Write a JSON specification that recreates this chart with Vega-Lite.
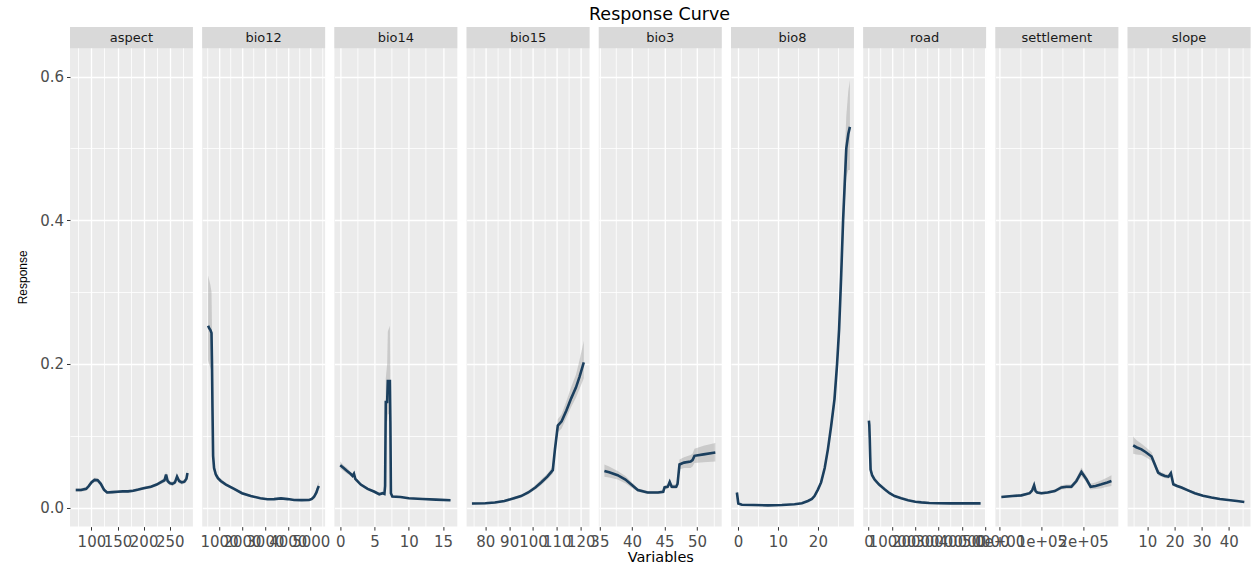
{
"$schema": "https://vega.github.io/schema/vega-lite/v6.json",
"padding": {"left": 16, "top": 6, "right": 5, "bottom": 5},
"background": "#FFFFFF",
"title": {"text": "Response Curve", "font": "DejaVu Sans", "fontSize": 17.5, "fontWeight": "normal", "color": "#000000", "anchor": "middle", "offset": 3, "dx": 26},
"spacing": 9.2,
"bounds": "flush",
"resolve": {"scale": {"x": "independent", "y": "independent"}},
"config": {
  "view": {"fill": "#EBEBEB", "stroke": null},
  "axis": {"domain": false, "gridColor": "#FFFFFF", "tickColor": "#333333", "tickSize": 3.5, "labelColor": "#4D4D4D", "labelFont": "DejaVu Sans", "labelFontSize": 15, "labelOverlap": false, "labelSeparation": -500, "labelFlush": false, "labelBound": false, "titleFont": "DejaVu Sans", "titleFontWeight": "normal", "titleColor": "#000000", "labelPadding": 3},
  "axisY": {"titlePadding": 10, "titleFont": "Liberation Sans", "titleFontSize": 12},
  "axisX": {"titleFontSize": 14.5, "titlePadding": 1, "labelPadding": 4}
},
"datasets": {
  "aspect": [
    {"x":70,"y":0.0245,"lo":0.022,"hi":0.027},{"x":80,"y":0.0245,"lo":0.022,"hi":0.027},{"x":90,"y":0.026,"lo":0.0235,"hi":0.0285},{"x":95,"y":0.03,"lo":0.027,"hi":0.033},{"x":100,"y":0.035,"lo":0.032,"hi":0.038},{"x":106,"y":0.0385,"lo":0.0355,"hi":0.0415},{"x":112,"y":0.038,"lo":0.035,"hi":0.041},{"x":118,"y":0.033,"lo":0.03,"hi":0.036},{"x":124,"y":0.025,"lo":0.022,"hi":0.028},{"x":130,"y":0.021,"lo":0.019,"hi":0.023},{"x":140,"y":0.0215,"lo":0.0195,"hi":0.0235},{"x":150,"y":0.022,"lo":0.02,"hi":0.024},{"x":160,"y":0.0225,"lo":0.0205,"hi":0.0245},{"x":170,"y":0.0225,"lo":0.0205,"hi":0.0245},{"x":180,"y":0.0235,"lo":0.0215,"hi":0.0255},{"x":190,"y":0.025,"lo":0.023,"hi":0.027},{"x":200,"y":0.027,"lo":0.025,"hi":0.029},{"x":214,"y":0.029,"lo":0.027,"hi":0.031},{"x":225,"y":0.032,"lo":0.03,"hi":0.034},{"x":235,"y":0.036,"lo":0.033,"hi":0.039},{"x":240,"y":0.038,"lo":0.035,"hi":0.041},{"x":243,"y":0.046,"lo":0.041,"hi":0.05},{"x":246,"y":0.037,"lo":0.034,"hi":0.04},{"x":250,"y":0.034,"lo":0.031,"hi":0.037},{"x":255,"y":0.033,"lo":0.03,"hi":0.036},{"x":260,"y":0.035,"lo":0.032,"hi":0.038},{"x":264,"y":0.043,"lo":0.039,"hi":0.047},{"x":268,"y":0.037,"lo":0.034,"hi":0.04},{"x":273,"y":0.035,"lo":0.032,"hi":0.038},{"x":278,"y":0.036,"lo":0.033,"hi":0.039},{"x":282,"y":0.04,"lo":0.036,"hi":0.044},{"x":284,"y":0.048,"lo":0.043,"hi":0.053}
  ],
  "bio12": [
    {"x":520,"y":0.253,"lo":0.205,"hi":0.323},{"x":560,"y":0.25,"lo":0.2,"hi":0.318},{"x":620,"y":0.247,"lo":0.195,"hi":0.31},{"x":668,"y":0.243,"lo":0.19,"hi":0.3},{"x":690,"y":0.2,"lo":0.16,"hi":0.25},{"x":710,"y":0.14,"lo":0.11,"hi":0.17},{"x":738,"y":0.072,"lo":0.06,"hi":0.085},{"x":780,"y":0.055,"lo":0.049,"hi":0.062},{"x":856,"y":0.046,"lo":0.042,"hi":0.05},{"x":950,"y":0.041,"lo":0.038,"hi":0.044},{"x":1074,"y":0.037,"lo":0.034,"hi":0.04},{"x":1300,"y":0.032,"lo":0.03,"hi":0.034},{"x":1655,"y":0.026,"lo":0.024,"hi":0.028},{"x":2000,"y":0.02,"lo":0.018,"hi":0.022},{"x":2384,"y":0.016,"lo":0.0145,"hi":0.0175},{"x":2800,"y":0.013,"lo":0.0118,"hi":0.0142},{"x":3114,"y":0.0116,"lo":0.0105,"hi":0.0127},{"x":3400,"y":0.0118,"lo":0.0107,"hi":0.0129},{"x":3700,"y":0.0128,"lo":0.0117,"hi":0.0139},{"x":4000,"y":0.0118,"lo":0.0107,"hi":0.0129},{"x":4275,"y":0.0106,"lo":0.0095,"hi":0.0117},{"x":4600,"y":0.0104,"lo":0.0093,"hi":0.0115},{"x":4930,"y":0.0106,"lo":0.0095,"hi":0.0117},{"x":5050,"y":0.012,"lo":0.01,"hi":0.014},{"x":5148,"y":0.015,"lo":0.012,"hi":0.018},{"x":5250,"y":0.021,"lo":0.017,"hi":0.025},{"x":5300,"y":0.026,"lo":0.021,"hi":0.031},{"x":5354,"y":0.03,"lo":0.024,"hi":0.036}
  ],
  "bio14": [
    {"x":0,"y":0.059,"lo":0.054,"hi":0.064},{"x":0.5,"y":0.055,"lo":0.051,"hi":0.059},{"x":1,"y":0.051,"lo":0.047,"hi":0.055},{"x":1.5,"y":0.047,"lo":0.044,"hi":0.05},{"x":1.8,"y":0.044,"lo":0.041,"hi":0.047},{"x":2,"y":0.047,"lo":0.043,"hi":0.051},{"x":2.2,"y":0.04,"lo":0.037,"hi":0.043},{"x":3,"y":0.032,"lo":0.03,"hi":0.034},{"x":4,"y":0.026,"lo":0.024,"hi":0.028},{"x":5,"y":0.022,"lo":0.02,"hi":0.024},{"x":5.7,"y":0.0185,"lo":0.017,"hi":0.02},{"x":6.2,"y":0.02,"lo":0.018,"hi":0.022},{"x":6.45,"y":0.019,"lo":0.017,"hi":0.021},{"x":6.55,"y":0.03,"lo":0.026,"hi":0.034},{"x":6.65,"y":0.147,"lo":0.12,"hi":0.18},{"x":6.85,"y":0.147,"lo":0.12,"hi":0.2},{"x":6.95,"y":0.176,"lo":0.13,"hi":0.245},{"x":7.25,"y":0.176,"lo":0.13,"hi":0.253},{"x":7.32,"y":0.12,"lo":0.09,"hi":0.16},{"x":7.4,"y":0.02,"lo":0.017,"hi":0.023},{"x":7.6,"y":0.0155,"lo":0.014,"hi":0.017},{"x":8.8,"y":0.0148,"lo":0.0138,"hi":0.0158},{"x":10,"y":0.013,"lo":0.012,"hi":0.014},{"x":12,"y":0.012,"lo":0.011,"hi":0.013},{"x":14,"y":0.011,"lo":0.01,"hi":0.012},{"x":16.1,"y":0.0102,"lo":0.0095,"hi":0.011}
  ],
  "bio15": [
    {"x":74.4,"y":0.0056,"lo":0.004,"hi":0.007},{"x":80,"y":0.006,"lo":0.0045,"hi":0.0075},{"x":84,"y":0.007,"lo":0.0055,"hi":0.0085},{"x":88,"y":0.009,"lo":0.0075,"hi":0.0105},{"x":92,"y":0.013,"lo":0.011,"hi":0.015},{"x":95,"y":0.016,"lo":0.014,"hi":0.018},{"x":98,"y":0.021,"lo":0.0185,"hi":0.0235},{"x":101,"y":0.028,"lo":0.025,"hi":0.031},{"x":103.4,"y":0.035,"lo":0.031,"hi":0.039},{"x":106,"y":0.043,"lo":0.039,"hi":0.047},{"x":108.3,"y":0.052,"lo":0.047,"hi":0.057},{"x":109.2,"y":0.081,"lo":0.074,"hi":0.088},{"x":110.4,"y":0.114,"lo":0.105,"hi":0.123},{"x":112,"y":0.12,"lo":0.11,"hi":0.13},{"x":114,"y":0.135,"lo":0.125,"hi":0.148},{"x":116,"y":0.152,"lo":0.14,"hi":0.168},{"x":118,"y":0.167,"lo":0.153,"hi":0.185},{"x":119.5,"y":0.182,"lo":0.165,"hi":0.205},{"x":121.3,"y":0.202,"lo":0.18,"hi":0.232}
  ],
  "bio3": [
    {"x":35.77,"y":0.051,"lo":0.043,"hi":0.06},{"x":36.5,"y":0.049,"lo":0.042,"hi":0.057},{"x":37.8,"y":0.045,"lo":0.039,"hi":0.051},{"x":39,"y":0.039,"lo":0.034,"hi":0.044},{"x":39.9,"y":0.032,"lo":0.028,"hi":0.036},{"x":40.9,"y":0.0245,"lo":0.022,"hi":0.027},{"x":42.4,"y":0.021,"lo":0.019,"hi":0.023},{"x":44,"y":0.021,"lo":0.019,"hi":0.023},{"x":44.8,"y":0.022,"lo":0.02,"hi":0.024},{"x":45,"y":0.028,"lo":0.025,"hi":0.031},{"x":45.5,"y":0.029,"lo":0.026,"hi":0.032},{"x":45.8,"y":0.0357,"lo":0.032,"hi":0.039},{"x":46.1,"y":0.029,"lo":0.026,"hi":0.032},{"x":46.8,"y":0.029,"lo":0.026,"hi":0.032},{"x":47,"y":0.033,"lo":0.029,"hi":0.037},{"x":47.3,"y":0.06,"lo":0.053,"hi":0.067},{"x":48,"y":0.0626,"lo":0.055,"hi":0.07},{"x":49,"y":0.064,"lo":0.055,"hi":0.073},{"x":49.3,"y":0.066,"lo":0.057,"hi":0.075},{"x":49.6,"y":0.072,"lo":0.062,"hi":0.082},{"x":51,"y":0.074,"lo":0.063,"hi":0.086},{"x":52.8,"y":0.0766,"lo":0.064,"hi":0.09}
  ],
  "bio8": [
    {"x":-0.25,"y":0.021,"lo":0.018,"hi":0.024},{"x":0.1,"y":0.0056,"lo":0.004,"hi":0.007},{"x":1,"y":0.004,"lo":0.003,"hi":0.005},{"x":4,"y":0.0035,"lo":0.003,"hi":0.004},{"x":7.5,"y":0.003,"lo":0.0025,"hi":0.0035},{"x":11,"y":0.0035,"lo":0.003,"hi":0.004},{"x":14.15,"y":0.0046,"lo":0.004,"hi":0.0052},{"x":16,"y":0.006,"lo":0.0053,"hi":0.0067},{"x":17.5,"y":0.0092,"lo":0.0083,"hi":0.01},{"x":18.5,"y":0.012,"lo":0.011,"hi":0.013},{"x":19.15,"y":0.016,"lo":0.0145,"hi":0.0175},{"x":20,"y":0.025,"lo":0.023,"hi":0.027},{"x":20.8,"y":0.035,"lo":0.032,"hi":0.038},{"x":21.7,"y":0.055,"lo":0.051,"hi":0.059},{"x":22.5,"y":0.081,"lo":0.075,"hi":0.087},{"x":23.3,"y":0.113,"lo":0.105,"hi":0.121},{"x":24.15,"y":0.151,"lo":0.14,"hi":0.162},{"x":24.8,"y":0.2,"lo":0.185,"hi":0.215},{"x":25.3,"y":0.248,"lo":0.23,"hi":0.266},{"x":25.8,"y":0.32,"lo":0.3,"hi":0.34},{"x":26.3,"y":0.4,"lo":0.37,"hi":0.43},{"x":26.7,"y":0.45,"lo":0.42,"hi":0.49},{"x":27.1,"y":0.5,"lo":0.46,"hi":0.545},{"x":27.6,"y":0.52,"lo":0.47,"hi":0.58},{"x":28,"y":0.53,"lo":0.47,"hi":0.595}
  ],
  "road": [
    {"x":123,"y":0.121,"lo":0.106,"hi":0.137},{"x":300,"y":0.115,"lo":0.1,"hi":0.13},{"x":500,"y":0.095,"lo":0.085,"hi":0.105},{"x":700,"y":0.07,"lo":0.063,"hi":0.077},{"x":857,"y":0.053,"lo":0.048,"hi":0.058},{"x":1500,"y":0.045,"lo":0.041,"hi":0.049},{"x":2570,"y":0.039,"lo":0.036,"hi":0.042},{"x":4500,"y":0.032,"lo":0.03,"hi":0.034},{"x":6860,"y":0.0255,"lo":0.024,"hi":0.027},{"x":9000,"y":0.02,"lo":0.019,"hi":0.021},{"x":11140,"y":0.016,"lo":0.015,"hi":0.017},{"x":14000,"y":0.013,"lo":0.012,"hi":0.014},{"x":16900,"y":0.0102,"lo":0.0095,"hi":0.011},{"x":20000,"y":0.0082,"lo":0.0076,"hi":0.0088},{"x":22600,"y":0.0072,"lo":0.0066,"hi":0.0078},{"x":26000,"y":0.0064,"lo":0.0058,"hi":0.007},{"x":29700,"y":0.006,"lo":0.0055,"hi":0.0065},{"x":35000,"y":0.0058,"lo":0.0053,"hi":0.0063},{"x":42000,"y":0.0058,"lo":0.0053,"hi":0.0063},{"x":48000,"y":0.0058,"lo":0.0053,"hi":0.0063}
  ],
  "settlement": [
    {"x":4000,"y":0.0148,"lo":0.013,"hi":0.0166},{"x":30000,"y":0.016,"lo":0.0145,"hi":0.0175},{"x":52000,"y":0.017,"lo":0.0155,"hi":0.0185},{"x":72000,"y":0.02,"lo":0.018,"hi":0.022},{"x":78000,"y":0.024,"lo":0.021,"hi":0.027},{"x":82500,"y":0.031,"lo":0.027,"hi":0.035},{"x":86000,"y":0.023,"lo":0.02,"hi":0.026},{"x":90000,"y":0.021,"lo":0.019,"hi":0.023},{"x":100000,"y":0.02,"lo":0.018,"hi":0.022},{"x":115000,"y":0.021,"lo":0.019,"hi":0.023},{"x":132000,"y":0.023,"lo":0.021,"hi":0.025},{"x":148000,"y":0.028,"lo":0.025,"hi":0.031},{"x":160000,"y":0.029,"lo":0.026,"hi":0.032},{"x":172000,"y":0.029,"lo":0.026,"hi":0.032},{"x":184000,"y":0.037,"lo":0.033,"hi":0.041},{"x":196000,"y":0.0496,"lo":0.044,"hi":0.0557},{"x":208000,"y":0.0394,"lo":0.035,"hi":0.044},{"x":218000,"y":0.029,"lo":0.025,"hi":0.033},{"x":230000,"y":0.03,"lo":0.026,"hi":0.035},{"x":244000,"y":0.0324,"lo":0.027,"hi":0.038},{"x":258000,"y":0.035,"lo":0.029,"hi":0.042},{"x":268000,"y":0.037,"lo":0.03,"hi":0.045}
  ],
  "slope": [
    {"x":4.85,"y":0.0867,"lo":0.075,"hi":0.099},{"x":6,"y":0.084,"lo":0.074,"hi":0.094},{"x":7.9,"y":0.081,"lo":0.073,"hi":0.089},{"x":9.5,"y":0.077,"lo":0.07,"hi":0.084},{"x":11.6,"y":0.071,"lo":0.065,"hi":0.077},{"x":12.8,"y":0.06,"lo":0.055,"hi":0.065},{"x":14,"y":0.0487,"lo":0.045,"hi":0.053},{"x":15.2,"y":0.046,"lo":0.043,"hi":0.049},{"x":16.5,"y":0.044,"lo":0.041,"hi":0.047},{"x":17.8,"y":0.043,"lo":0.04,"hi":0.046},{"x":18.7,"y":0.0478,"lo":0.043,"hi":0.052},{"x":19.6,"y":0.0324,"lo":0.03,"hi":0.035},{"x":21,"y":0.03,"lo":0.028,"hi":0.032},{"x":22.6,"y":0.028,"lo":0.026,"hi":0.03},{"x":25,"y":0.024,"lo":0.022,"hi":0.026},{"x":27.5,"y":0.02,"lo":0.0185,"hi":0.0215},{"x":30.5,"y":0.0165,"lo":0.0153,"hi":0.0177},{"x":33.6,"y":0.014,"lo":0.013,"hi":0.015},{"x":36.7,"y":0.012,"lo":0.011,"hi":0.013},{"x":39.8,"y":0.0106,"lo":0.0098,"hi":0.0114},{"x":43,"y":0.0092,"lo":0.0085,"hi":0.0099},{"x":45.7,"y":0.0078,"lo":0.0071,"hi":0.0085}
  ]
},
"hconcat": [
  {"width": 122.9, "height": 499.6, "layer": [
    {"data": {"name": "aspect"}, "mark": {"type": "area", "color": "#999999", "opacity": 0.4},
     "encoding": {
      "x": {"field": "x", "type": "quantitative", "scale": {"domain": [59.0, 294.4], "nice": false, "zero": false},
            "axis": {"title": null, "labelOverlap": false, "labelSeparation": -500, "values": [75,100,125,150,175,200,225,250,275], "labelExpr": "datum.value % 50 == 0 ? format(datum.value, 'd') : ''", "gridWidth": {"condition": {"test": "datum.value % 50 != 0", "value": 0.8}, "value": 1.3}, "tickOpacity": {"condition": {"test": "datum.value % 50 != 0", "value": 0}, "value": 1}}},
      "y": {"field": "lo", "type": "quantitative", "scale": {"domain": [-0.0265, 0.669], "nice": false, "zero": false},
            "axis": {"title": "Response", "labelOverlap": false, "values": [0,0.1,0.2,0.3,0.4,0.5,0.6], "labelExpr": "round(datum.value*10) % 2 == 0 ? format(datum.value, '.1f') : ''", "gridWidth": {"condition": {"test": "round(datum.value*10) % 2 == 1", "value": 0.8}, "value": 1.3}, "tickOpacity": {"condition": {"test": "round(datum.value*10) % 2 == 1", "value": 0}, "value": 1}}},
      "y2": {"field": "hi"}}},
    {"data": {"name": "aspect"}, "mark": {"type": "line", "color": "#1B3F5E", "strokeWidth": 2.6},
     "encoding": {
      "x": {"field": "x", "type": "quantitative",
            "axis": {"title": null, "labelOverlap": false, "labelSeparation": -500, "values": [75,100,125,150,175,200,225,250,275], "labelExpr": "datum.value % 50 == 0 ? format(datum.value, 'd') : ''", "gridWidth": {"condition": {"test": "datum.value % 50 != 0", "value": 0.8}, "value": 1.3}, "tickOpacity": {"condition": {"test": "datum.value % 50 != 0", "value": 0}, "value": 1}}},
      "y": {"field": "y", "type": "quantitative",
            "axis": {"title": "Response", "labelOverlap": false, "values": [0,0.1,0.2,0.3,0.4,0.5,0.6], "labelExpr": "round(datum.value*10) % 2 == 0 ? format(datum.value, '.1f') : ''", "gridWidth": {"condition": {"test": "round(datum.value*10) % 2 == 1", "value": 0.8}, "value": 1.3}, "tickOpacity": {"condition": {"test": "round(datum.value*10) % 2 == 1", "value": 0}, "value": 1}}}}},
    {"data": {"values": [{"label": "aspect"}]}, "mark": {"type": "rect", "color": "#D9D9D9"},
     "encoding": {"y": {"datum": 0.6395}, "y2": {"datum": 0.669}}},
    {"data": {"values": [{"label": "aspect"}]}, "mark": {"type": "text", "font": "DejaVu Sans", "fontSize": 13, "color": "#1A1A1A", "baseline": "middle", "align": "center"},
     "encoding": {"y": {"datum": 0.6543}, "text": {"field": "label"}}}
  ]},
  {"width": 122.9, "height": 499.6, "layer": [
    {"data": {"name": "bio12"}, "mark": {"type": "area", "color": "#999999", "opacity": 0.4},
     "encoding": {
      "x": {"field": "x", "type": "quantitative", "scale": {"domain": [262, 5629], "nice": false, "zero": false},
            "axis": {"title": null, "labelOverlap": false, "labelSeparation": -500, "values": [500,1000,1500,2000,2500,3000,3500,4000,4500,5000,5500], "labelExpr": "datum.value % 1000 == 0 ? format(datum.value, 'd') : ''", "gridWidth": {"condition": {"test": "datum.value % 1000 != 0", "value": 0.8}, "value": 1.3}, "tickOpacity": {"condition": {"test": "datum.value % 1000 != 0", "value": 0}, "value": 1}}},
      "y": {"field": "lo", "type": "quantitative", "scale": {"domain": [-0.0265, 0.669], "nice": false, "zero": false},
            "axis": {"title": null, "labels": false, "ticks": false, "values": [0,0.1,0.2,0.3,0.4,0.5,0.6], "gridWidth": {"condition": {"test": "round(datum.value*10) % 2 == 1", "value": 0.8}, "value": 1.3}}},
      "y2": {"field": "hi"}}},
    {"data": {"name": "bio12"}, "mark": {"type": "line", "color": "#1B3F5E", "strokeWidth": 2.6},
     "encoding": {
      "x": {"field": "x", "type": "quantitative",
            "axis": {"title": null, "labelOverlap": false, "labelSeparation": -500, "values": [500,1000,1500,2000,2500,3000,3500,4000,4500,5000,5500], "labelExpr": "datum.value % 1000 == 0 ? format(datum.value, 'd') : ''", "gridWidth": {"condition": {"test": "datum.value % 1000 != 0", "value": 0.8}, "value": 1.3}, "tickOpacity": {"condition": {"test": "datum.value % 1000 != 0", "value": 0}, "value": 1}}},
      "y": {"field": "y", "type": "quantitative",
            "axis": {"title": null, "labels": false, "ticks": false, "values": [0,0.1,0.2,0.3,0.4,0.5,0.6], "gridWidth": {"condition": {"test": "round(datum.value*10) % 2 == 1", "value": 0.8}, "value": 1.3}}}}},
    {"data": {"values": [{"label": "bio12"}]}, "mark": {"type": "rect", "color": "#D9D9D9"},
     "encoding": {"y": {"datum": 0.6395}, "y2": {"datum": 0.669}}},
    {"data": {"values": [{"label": "bio12"}]}, "mark": {"type": "text", "font": "DejaVu Sans", "fontSize": 13, "color": "#1A1A1A", "baseline": "middle", "align": "center"},
     "encoding": {"y": {"datum": 0.6543}, "text": {"field": "label"}}}
  ]},
  {"width": 122.9, "height": 499.6, "layer": [
    {"data": {"name": "bio14"}, "mark": {"type": "area", "color": "#999999", "opacity": 0.4},
     "encoding": {
      "x": {"field": "x", "type": "quantitative", "scale": {"domain": [-0.85, 17.09], "nice": false, "zero": false},
            "axis": {"title": null, "labelOverlap": false, "labelSeparation": -500, "values": [0,2.5,5,7.5,10,12.5,15], "labelExpr": "datum.value % 5 == 0 ? format(datum.value, 'd') : ''", "gridWidth": {"condition": {"test": "datum.value % 5 != 0", "value": 0.8}, "value": 1.3}, "tickOpacity": {"condition": {"test": "datum.value % 5 != 0", "value": 0}, "value": 1}}},
      "y": {"field": "lo", "type": "quantitative", "scale": {"domain": [-0.0265, 0.669], "nice": false, "zero": false},
            "axis": {"title": null, "labels": false, "ticks": false, "values": [0,0.1,0.2,0.3,0.4,0.5,0.6], "gridWidth": {"condition": {"test": "round(datum.value*10) % 2 == 1", "value": 0.8}, "value": 1.3}}},
      "y2": {"field": "hi"}}},
    {"data": {"name": "bio14"}, "mark": {"type": "line", "color": "#1B3F5E", "strokeWidth": 2.6},
     "encoding": {
      "x": {"field": "x", "type": "quantitative",
            "axis": {"title": null, "labelOverlap": false, "labelSeparation": -500, "values": [0,2.5,5,7.5,10,12.5,15], "labelExpr": "datum.value % 5 == 0 ? format(datum.value, 'd') : ''", "gridWidth": {"condition": {"test": "datum.value % 5 != 0", "value": 0.8}, "value": 1.3}, "tickOpacity": {"condition": {"test": "datum.value % 5 != 0", "value": 0}, "value": 1}}},
      "y": {"field": "y", "type": "quantitative",
            "axis": {"title": null, "labels": false, "ticks": false, "values": [0,0.1,0.2,0.3,0.4,0.5,0.6], "gridWidth": {"condition": {"test": "round(datum.value*10) % 2 == 1", "value": 0.8}, "value": 1.3}}}}},
    {"data": {"values": [{"label": "bio14"}]}, "mark": {"type": "rect", "color": "#D9D9D9"},
     "encoding": {"y": {"datum": 0.6395}, "y2": {"datum": 0.669}}},
    {"data": {"values": [{"label": "bio14"}]}, "mark": {"type": "text", "font": "DejaVu Sans", "fontSize": 13, "color": "#1A1A1A", "baseline": "middle", "align": "center"},
     "encoding": {"y": {"datum": 0.6543}, "text": {"field": "label"}}}
  ]},
  {"width": 122.9, "height": 499.6, "layer": [
    {"data": {"name": "bio15"}, "mark": {"type": "area", "color": "#999999", "opacity": 0.4},
     "encoding": {
      "x": {"field": "x", "type": "quantitative", "scale": {"domain": [72.16, 123.69], "nice": false, "zero": false},
            "axis": {"title": null, "labelOverlap": false, "labelSeparation": -500, "values": [75,80,85,90,95,100,105,110,115,120], "labelExpr": "datum.value % 10 == 0 ? format(datum.value, 'd') : ''", "gridWidth": {"condition": {"test": "datum.value % 10 != 0", "value": 0.8}, "value": 1.3}, "tickOpacity": {"condition": {"test": "datum.value % 10 != 0", "value": 0}, "value": 1}}},
      "y": {"field": "lo", "type": "quantitative", "scale": {"domain": [-0.0265, 0.669], "nice": false, "zero": false},
            "axis": {"title": null, "labels": false, "ticks": false, "values": [0,0.1,0.2,0.3,0.4,0.5,0.6], "gridWidth": {"condition": {"test": "round(datum.value*10) % 2 == 1", "value": 0.8}, "value": 1.3}}},
      "y2": {"field": "hi"}}},
    {"data": {"name": "bio15"}, "mark": {"type": "line", "color": "#1B3F5E", "strokeWidth": 2.6},
     "encoding": {
      "x": {"field": "x", "type": "quantitative",
            "axis": {"title": null, "labelOverlap": false, "labelSeparation": -500, "values": [75,80,85,90,95,100,105,110,115,120], "labelExpr": "datum.value % 10 == 0 ? format(datum.value, 'd') : ''", "gridWidth": {"condition": {"test": "datum.value % 10 != 0", "value": 0.8}, "value": 1.3}, "tickOpacity": {"condition": {"test": "datum.value % 10 != 0", "value": 0}, "value": 1}}},
      "y": {"field": "y", "type": "quantitative",
            "axis": {"title": null, "labels": false, "ticks": false, "values": [0,0.1,0.2,0.3,0.4,0.5,0.6], "gridWidth": {"condition": {"test": "round(datum.value*10) % 2 == 1", "value": 0.8}, "value": 1.3}}}}},
    {"data": {"values": [{"label": "bio15"}]}, "mark": {"type": "rect", "color": "#D9D9D9"},
     "encoding": {"y": {"datum": 0.6395}, "y2": {"datum": 0.669}}},
    {"data": {"values": [{"label": "bio15"}]}, "mark": {"type": "text", "font": "DejaVu Sans", "fontSize": 13, "color": "#1A1A1A", "baseline": "middle", "align": "center"},
     "encoding": {"y": {"datum": 0.6543}, "text": {"field": "label"}}}
  ]},
  {"width": 122.9, "height": 499.6, "layer": [
    {"data": {"name": "bio3"}, "mark": {"type": "area", "color": "#999999", "opacity": 0.4},
     "encoding": {
      "x": {"field": "x", "type": "quantitative", "scale": {"domain": [34.91, 53.78], "nice": false, "zero": false},
            "axis": {"title": "Variables", "labelOverlap": false, "labelSeparation": -500, "values": [35,37.5,40,42.5,45,47.5,50,52.5], "labelExpr": "datum.value % 5 == 0 ? format(datum.value, 'd') : ''", "gridWidth": {"condition": {"test": "datum.value % 5 != 0", "value": 0.8}, "value": 1.3}, "tickOpacity": {"condition": {"test": "datum.value % 5 != 0", "value": 0}, "value": 1}}},
      "y": {"field": "lo", "type": "quantitative", "scale": {"domain": [-0.0265, 0.669], "nice": false, "zero": false},
            "axis": {"title": null, "labels": false, "ticks": false, "values": [0,0.1,0.2,0.3,0.4,0.5,0.6], "gridWidth": {"condition": {"test": "round(datum.value*10) % 2 == 1", "value": 0.8}, "value": 1.3}}},
      "y2": {"field": "hi"}}},
    {"data": {"name": "bio3"}, "mark": {"type": "line", "color": "#1B3F5E", "strokeWidth": 2.6},
     "encoding": {
      "x": {"field": "x", "type": "quantitative",
            "axis": {"title": "Variables", "labelOverlap": false, "labelSeparation": -500, "values": [35,37.5,40,42.5,45,47.5,50,52.5], "labelExpr": "datum.value % 5 == 0 ? format(datum.value, 'd') : ''", "gridWidth": {"condition": {"test": "datum.value % 5 != 0", "value": 0.8}, "value": 1.3}, "tickOpacity": {"condition": {"test": "datum.value % 5 != 0", "value": 0}, "value": 1}}},
      "y": {"field": "y", "type": "quantitative",
            "axis": {"title": null, "labels": false, "ticks": false, "values": [0,0.1,0.2,0.3,0.4,0.5,0.6], "gridWidth": {"condition": {"test": "round(datum.value*10) % 2 == 1", "value": 0.8}, "value": 1.3}}}}},
    {"data": {"values": [{"label": "bio3"}]}, "mark": {"type": "rect", "color": "#D9D9D9"},
     "encoding": {"y": {"datum": 0.6395}, "y2": {"datum": 0.669}}},
    {"data": {"values": [{"label": "bio3"}]}, "mark": {"type": "text", "font": "DejaVu Sans", "fontSize": 13, "color": "#1A1A1A", "baseline": "middle", "align": "center"},
     "encoding": {"y": {"datum": 0.6543}, "text": {"field": "label"}}}
  ]},
  {"width": 122.9, "height": 499.6, "layer": [
    {"data": {"name": "bio8"}, "mark": {"type": "area", "color": "#999999", "opacity": 0.4},
     "encoding": {
      "x": {"field": "x", "type": "quantitative", "scale": {"domain": [-1.725, 29.0], "nice": false, "zero": false},
            "axis": {"title": null, "labelOverlap": false, "labelSeparation": -500, "values": [0,5,10,15,20,25], "labelExpr": "datum.value % 10 == 0 ? format(datum.value, 'd') : ''", "gridWidth": {"condition": {"test": "datum.value % 10 != 0", "value": 0.8}, "value": 1.3}, "tickOpacity": {"condition": {"test": "datum.value % 10 != 0", "value": 0}, "value": 1}}},
      "y": {"field": "lo", "type": "quantitative", "scale": {"domain": [-0.0265, 0.669], "nice": false, "zero": false},
            "axis": {"title": null, "labels": false, "ticks": false, "values": [0,0.1,0.2,0.3,0.4,0.5,0.6], "gridWidth": {"condition": {"test": "round(datum.value*10) % 2 == 1", "value": 0.8}, "value": 1.3}}},
      "y2": {"field": "hi"}}},
    {"data": {"name": "bio8"}, "mark": {"type": "line", "color": "#1B3F5E", "strokeWidth": 2.6},
     "encoding": {
      "x": {"field": "x", "type": "quantitative",
            "axis": {"title": null, "labelOverlap": false, "labelSeparation": -500, "values": [0,5,10,15,20,25], "labelExpr": "datum.value % 10 == 0 ? format(datum.value, 'd') : ''", "gridWidth": {"condition": {"test": "datum.value % 10 != 0", "value": 0.8}, "value": 1.3}, "tickOpacity": {"condition": {"test": "datum.value % 10 != 0", "value": 0}, "value": 1}}},
      "y": {"field": "y", "type": "quantitative",
            "axis": {"title": null, "labels": false, "ticks": false, "values": [0,0.1,0.2,0.3,0.4,0.5,0.6], "gridWidth": {"condition": {"test": "round(datum.value*10) % 2 == 1", "value": 0.8}, "value": 1.3}}}}},
    {"data": {"values": [{"label": "bio8"}]}, "mark": {"type": "rect", "color": "#D9D9D9"},
     "encoding": {"y": {"datum": 0.6395}, "y2": {"datum": 0.669}}},
    {"data": {"values": [{"label": "bio8"}]}, "mark": {"type": "text", "font": "DejaVu Sans", "fontSize": 13, "color": "#1A1A1A", "baseline": "middle", "align": "center"},
     "encoding": {"y": {"datum": 0.6543}, "text": {"field": "label"}}}
  ]},
  {"width": 122.9, "height": 499.6, "layer": [
    {"data": {"name": "road"}, "mark": {"type": "area", "color": "#999999", "opacity": 0.4},
     "encoding": {
      "x": {"field": "x", "type": "quantitative", "scale": {"domain": [-2315, 50364], "nice": false, "zero": false},
            "axis": {"title": null, "labelOverlap": false, "labelSeparation": -500, "values": [0,5000,10000,15000,20000,25000,30000,35000,40000,45000,50000], "labelExpr": "datum.value % 10000 == 0 ? format(datum.value, 'd') : ''", "gridWidth": {"condition": {"test": "datum.value % 10000 != 0", "value": 0.8}, "value": 1.3}, "tickOpacity": {"condition": {"test": "datum.value % 10000 != 0", "value": 0}, "value": 1}}},
      "y": {"field": "lo", "type": "quantitative", "scale": {"domain": [-0.0265, 0.669], "nice": false, "zero": false},
            "axis": {"title": null, "labels": false, "ticks": false, "values": [0,0.1,0.2,0.3,0.4,0.5,0.6], "gridWidth": {"condition": {"test": "round(datum.value*10) % 2 == 1", "value": 0.8}, "value": 1.3}}},
      "y2": {"field": "hi"}}},
    {"data": {"name": "road"}, "mark": {"type": "line", "color": "#1B3F5E", "strokeWidth": 2.6},
     "encoding": {
      "x": {"field": "x", "type": "quantitative",
            "axis": {"title": null, "labelOverlap": false, "labelSeparation": -500, "values": [0,5000,10000,15000,20000,25000,30000,35000,40000,45000,50000], "labelExpr": "datum.value % 10000 == 0 ? format(datum.value, 'd') : ''", "gridWidth": {"condition": {"test": "datum.value % 10000 != 0", "value": 0.8}, "value": 1.3}, "tickOpacity": {"condition": {"test": "datum.value % 10000 != 0", "value": 0}, "value": 1}}},
      "y": {"field": "y", "type": "quantitative",
            "axis": {"title": null, "labels": false, "ticks": false, "values": [0,0.1,0.2,0.3,0.4,0.5,0.6], "gridWidth": {"condition": {"test": "round(datum.value*10) % 2 == 1", "value": 0.8}, "value": 1.3}}}}},
    {"data": {"values": [{"label": "road"}]}, "mark": {"type": "rect", "color": "#D9D9D9"},
     "encoding": {"y": {"datum": 0.6395}, "y2": {"datum": 0.669}}},
    {"data": {"values": [{"label": "road"}]}, "mark": {"type": "text", "font": "DejaVu Sans", "fontSize": 13, "color": "#1A1A1A", "baseline": "middle", "align": "center"},
     "encoding": {"y": {"datum": 0.6543}, "text": {"field": "label"}}}
  ]},
  {"width": 122.9, "height": 499.6, "layer": [
    {"data": {"name": "settlement"}, "mark": {"type": "area", "color": "#999999", "opacity": 0.4},
     "encoding": {
      "x": {"field": "x", "type": "quantitative", "scale": {"domain": [-10312, 284412], "nice": false, "zero": false},
            "axis": {"title": null, "labelOverlap": false, "labelSeparation": -500, "values": [0,50000,100000,150000,200000,250000], "labelExpr": "datum.value == 0 ? '0e+00' : (datum.value % 100000 == 0 ? (datum.value / 100000) + 'e+05' : '')", "gridWidth": {"condition": {"test": "datum.value % 100000 != 0", "value": 0.8}, "value": 1.3}, "tickOpacity": {"condition": {"test": "datum.value % 100000 != 0", "value": 0}, "value": 1}}},
      "y": {"field": "lo", "type": "quantitative", "scale": {"domain": [-0.0265, 0.669], "nice": false, "zero": false},
            "axis": {"title": null, "labels": false, "ticks": false, "values": [0,0.1,0.2,0.3,0.4,0.5,0.6], "gridWidth": {"condition": {"test": "round(datum.value*10) % 2 == 1", "value": 0.8}, "value": 1.3}}},
      "y2": {"field": "hi"}}},
    {"data": {"name": "settlement"}, "mark": {"type": "line", "color": "#1B3F5E", "strokeWidth": 2.6},
     "encoding": {
      "x": {"field": "x", "type": "quantitative",
            "axis": {"title": null, "labelOverlap": false, "labelSeparation": -500, "values": [0,50000,100000,150000,200000,250000], "labelExpr": "datum.value == 0 ? '0e+00' : (datum.value % 100000 == 0 ? (datum.value / 100000) + 'e+05' : '')", "gridWidth": {"condition": {"test": "datum.value % 100000 != 0", "value": 0.8}, "value": 1.3}, "tickOpacity": {"condition": {"test": "datum.value % 100000 != 0", "value": 0}, "value": 1}}},
      "y": {"field": "y", "type": "quantitative",
            "axis": {"title": null, "labels": false, "ticks": false, "values": [0,0.1,0.2,0.3,0.4,0.5,0.6], "gridWidth": {"condition": {"test": "round(datum.value*10) % 2 == 1", "value": 0.8}, "value": 1.3}}}}},
    {"data": {"values": [{"label": "settlement"}]}, "mark": {"type": "rect", "color": "#D9D9D9"},
     "encoding": {"y": {"datum": 0.6395}, "y2": {"datum": 0.669}}},
    {"data": {"values": [{"label": "settlement"}]}, "mark": {"type": "text", "font": "DejaVu Sans", "fontSize": 13, "color": "#1A1A1A", "baseline": "middle", "align": "center"},
     "encoding": {"y": {"datum": 0.6543}, "text": {"field": "label"}}}
  ]},
  {"width": 122.9, "height": 499.6, "layer": [
    {"data": {"name": "slope"}, "mark": {"type": "area", "color": "#999999", "opacity": 0.4},
     "encoding": {
      "x": {"field": "x", "type": "quantitative", "scale": {"domain": [2.79, 47.97], "nice": false, "zero": false},
            "axis": {"title": null, "labelOverlap": false, "labelSeparation": -500, "values": [5,10,15,20,25,30,35,40,45], "labelExpr": "datum.value % 10 == 0 ? format(datum.value, 'd') : ''", "gridWidth": {"condition": {"test": "datum.value % 10 != 0", "value": 0.8}, "value": 1.3}, "tickOpacity": {"condition": {"test": "datum.value % 10 != 0", "value": 0}, "value": 1}}},
      "y": {"field": "lo", "type": "quantitative", "scale": {"domain": [-0.0265, 0.669], "nice": false, "zero": false},
            "axis": {"title": null, "labels": false, "ticks": false, "values": [0,0.1,0.2,0.3,0.4,0.5,0.6], "gridWidth": {"condition": {"test": "round(datum.value*10) % 2 == 1", "value": 0.8}, "value": 1.3}}},
      "y2": {"field": "hi"}}},
    {"data": {"name": "slope"}, "mark": {"type": "line", "color": "#1B3F5E", "strokeWidth": 2.6},
     "encoding": {
      "x": {"field": "x", "type": "quantitative",
            "axis": {"title": null, "labelOverlap": false, "labelSeparation": -500, "values": [5,10,15,20,25,30,35,40,45], "labelExpr": "datum.value % 10 == 0 ? format(datum.value, 'd') : ''", "gridWidth": {"condition": {"test": "datum.value % 10 != 0", "value": 0.8}, "value": 1.3}, "tickOpacity": {"condition": {"test": "datum.value % 10 != 0", "value": 0}, "value": 1}}},
      "y": {"field": "y", "type": "quantitative",
            "axis": {"title": null, "labels": false, "ticks": false, "values": [0,0.1,0.2,0.3,0.4,0.5,0.6], "gridWidth": {"condition": {"test": "round(datum.value*10) % 2 == 1", "value": 0.8}, "value": 1.3}}}}},
    {"data": {"values": [{"label": "slope"}]}, "mark": {"type": "rect", "color": "#D9D9D9"},
     "encoding": {"y": {"datum": 0.6395}, "y2": {"datum": 0.669}}},
    {"data": {"values": [{"label": "slope"}]}, "mark": {"type": "text", "font": "DejaVu Sans", "fontSize": 13, "color": "#1A1A1A", "baseline": "middle", "align": "center"},
     "encoding": {"y": {"datum": 0.6543}, "text": {"field": "label"}}}
  ]}
]
}
